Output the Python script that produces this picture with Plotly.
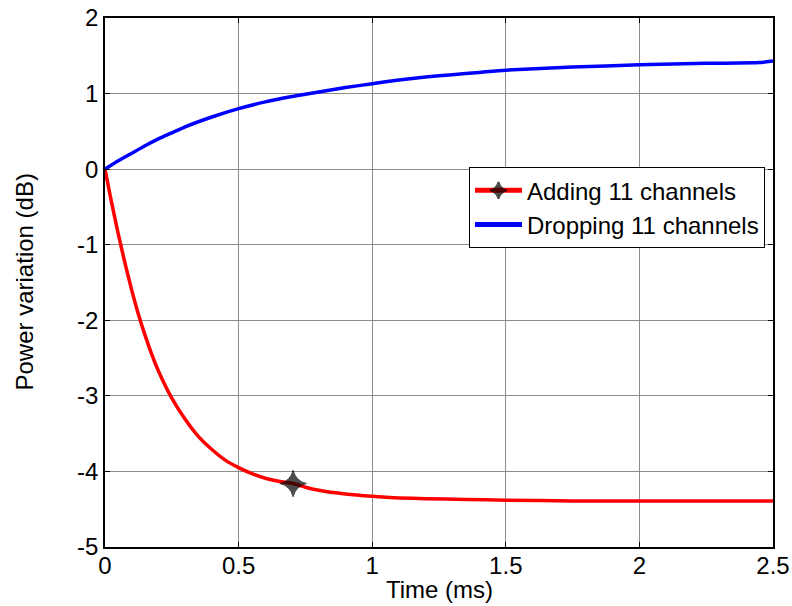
import plotly.graph_objects as go

# Time axis (ms)
t_add = [0, 0.02, 0.04, 0.06, 0.08, 0.10, 0.125, 0.15, 0.175, 0.20, 0.25, 0.30, 0.35,
         0.40, 0.45, 0.50, 0.55, 0.60, 0.65, 0.704, 0.75, 0.80, 0.90, 1.00, 1.10,
         1.20, 1.35, 1.50, 1.75, 2.00, 2.25, 2.50]
p_add = [0, -0.36, -0.70, -1.02, -1.32, -1.60, -1.92, -2.20, -2.45, -2.67, -3.03, -3.31, -3.54,
         -3.71, -3.85, -3.95, -4.03, -4.09, -4.13, -4.16, -4.21, -4.25, -4.30, -4.33, -4.35,
         -4.36, -4.37, -4.38, -4.39, -4.39, -4.39, -4.39]

t_drop = [0, 0.05, 0.10, 0.15, 0.20, 0.25, 0.30, 0.40, 0.50, 0.60, 0.70, 0.80, 0.90,
          1.00, 1.10, 1.20, 1.30, 1.40, 1.50, 1.75, 2.00, 2.25, 2.45, 2.50]
p_drop = [0, 0.11, 0.21, 0.31, 0.40, 0.48, 0.56, 0.69, 0.80, 0.89, 0.96, 1.02, 1.08,
          1.13, 1.18, 1.22, 1.25, 1.28, 1.31, 1.35, 1.38, 1.40, 1.41, 1.43]

marker_t = 0.704

x_ticks = [0, 0.5, 1, 1.5, 2, 2.5]
x_labels = ["0", "0.5", "1", "1.5", "2", "2.5"]
y_ticks = [-5, -4, -3, -2, -1, 0, 1, 2]
y_labels = ["-5", "-4", "-3", "-2", "-1", "0", "1", "2"]

names = ["Adding 11 channels", "Dropping 11 channels"]
x_title = "Time (ms)"
y_title = "Power variation (dB)"

FONT = "Liberation Sans, Arial, Helvetica, sans-serif"
FS = 24

is_mark = [abs(t - marker_t) < 1e-9 for t in t_add]
sizes = [19 if m else 0 for m in is_mark]
mlw = [1 if m else 0 for m in is_mark]

fig = go.Figure()
fig.add_trace(go.Scatter(
    x=t_add, y=p_add, name=names[0], mode="lines+markers",
    line=dict(color="#ff0000", width=3.5, shape="spline", smoothing=0.6),
    marker=dict(symbol="star-diamond", size=sizes, color="#000000",
                line=dict(width=mlw, color="#000000")),
))
fig.add_trace(go.Scatter(
    x=t_drop, y=p_drop, name=names[1], mode="lines",
    line=dict(color="#0000ff", width=3.5, shape="spline", smoothing=0.6),
))

axis_common = dict(
    showgrid=True, gridcolor="#8c8c8c", gridwidth=1,
    zeroline=False, showline=True, linecolor="#000000", linewidth=1.5,
    mirror="allticks", ticks="inside", ticklen=5, tickcolor="#000000",
    tickfont=dict(family=FONT, size=FS, color="#000000"),
    automargin=False,
)

fig.update_layout(
    width=792, height=606,
    paper_bgcolor="#ffffff", plot_bgcolor="#ffffff",
    margin=dict(l=105, r=19, t=18, b=59),
    font=dict(family=FONT, size=FS, color="#000000"),
    xaxis=dict(range=[0, 2.5], tickvals=x_ticks, ticktext=x_labels,
               ticklabelstandoff=-4, **axis_common),
    yaxis=dict(range=[-5, 2], tickvals=y_ticks, ticktext=y_labels, **axis_common),
    legend=dict(x=0.988, y=0.718, xanchor="right", yanchor="top",
                bgcolor="#ffffff", bordercolor="#000000", borderwidth=1,
                font=dict(family=FONT, size=FS, color="#000000"),
                itemsizing="constant", itemwidth=47, tracegroupgap=0),
    showlegend=True,
    annotations=[
        dict(text=x_title, xref="paper", yref="paper", x=0.5, y=0, yshift=-42,
             xanchor="center", yanchor="middle", showarrow=False,
             font=dict(family=FONT, size=FS, color="#000000")),
        dict(text=y_title, xref="paper", yref="paper", x=0, y=0.5, xshift=-81,
             xanchor="center", yanchor="middle", textangle=-90, showarrow=False,
             font=dict(family=FONT, size=FS, color="#000000")),
    ],
)

fig.write_html("out.html", config={"displayModeBar": False},
               post_script="document.body.style.margin='0';")
